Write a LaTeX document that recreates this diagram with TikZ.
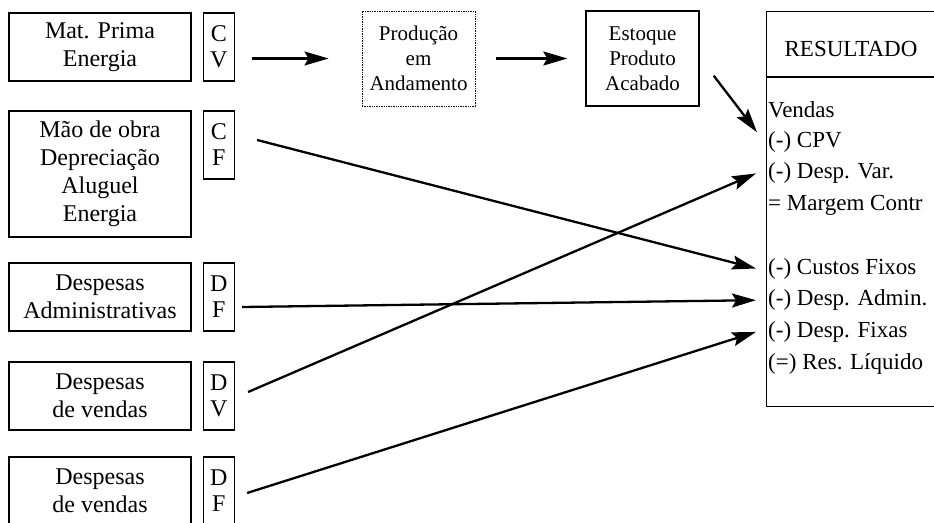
\documentclass[tikz,border=0pt]{standalone}
\usepackage{fontspec}
\setmainfont{Liberation Serif}
\usetikzlibrary{arrows.meta,positioning,calc}
\tikzset{
  caixa/.style={draw, line width=1.4pt, align=center, inner sep=0pt},
  esq/.style={caixa, minimum width=182pt, minimum height=68pt, font=\fontsize{24}{28}\selectfont},
  tag/.style={caixa, minimum width=31pt, minimum height=68pt, anchor=north west, font=\fontsize{24}{26}\selectfont},
  meio/.style={caixa, minimum width=113pt, minimum height=95pt, font=\fontsize{21}{25}\selectfont},
  linha/.style={anchor=west, inner sep=0pt, font=\fontsize{23}{28}\selectfont},
  seta/.style={line width=2.3pt, -{Stealth[length=24pt,width=14pt,inset=4pt]}}
}
\begin{document}
\begin{tikzpicture}[x=1pt, y=-1pt]
\useasboundingbox (0,0) rectangle (934,522);
\clip (0,0) rectangle (934,522);
% custos e despesas
\node[esq] (mp) at (100,47) {Mat. Prima\\Energia};
\node[esq, minimum height=126pt] (mo) at (100,174) {Mão de obra\\Depreciação\\Aluguel\\Energia};
\node[esq] (da) at (100,297) {Despesas\\Administrativas};
\node[esq] (dv) at (100,396) {Despesas\\de vendas};
\node[esq] (dfx) at (100,491) {Despesas\\de vendas};
\node[tag] (tcv) at ([xshift=11pt]mp.north east) {C\\V};
\node[tag] (tcf) at ([xshift=11pt]mo.north east) {C\\F};
\node[tag] (tdf) at ([xshift=11pt]da.north east) {D\\F};
\node[tag] (tdv) at ([xshift=11pt]dv.north east) {D\\V};
\node[tag] (tdf2) at ([xshift=11pt]dfx.north east) {D\\F};
% producao
\node[meio, densely dotted, line width=1pt] (prod) at (418.5,58.5) {Produção\\em\\Andamento};
\node[meio] (est) at (642.5,58.5) {Estoque\\Produto\\Acabado};
% resultado
\node[caixa, minimum width=190pt, minimum height=395pt, anchor=north west] (res) at (766,11) {};
\draw[line width=1.4pt] (res.west |- 0,77) -- (res.east |- 0,77);
\node[font=\fontsize{23}{28}\selectfont] (tit) at (851,49) {RESULTADO};
\foreach \k/\t in {1/Vendas, 2/{(-) CPV}, 3/{(-) Desp. Var.}, 4/{= Margem Contr},
  6/{(-) Custos Fixos}, 7/{(-) Desp. Admin.}, 8/{(-) Desp. Fixas}, 9/{(=) Res. Líquido}}
  \node[linha] (r\k) at (768,78.3+31.7*\k) {\t};
% setas
\draw[seta] ($(tcv.east |- prod.west)+(17,0)$) -- ($(prod.west)+(-33,0)$);
\draw[seta] ($(prod.east)+(20,0)$) -- ($(est.west)+(-18,0)$);
\draw[seta] ($(est.south east)+(14,-31)$) -- ($(r1.west)!.7!(r2.west)+(-11,0)$);
\draw[seta] ($(tcf.east)+(22,-5)$) -- ($(r6.west)+(-12,0)$);
\draw[seta] ($(tdf.east)+(7,10)$) -- ($(r7.west)+(-12,0)$);
\draw[seta] ($(tdv.east)+(13,-4)$) -- ($(r3.west)+(-12,0)$);
\draw[seta] ($(tdf2.east)+(12,2)$) -- ($(r8.west)+(-12,0)$);
\end{tikzpicture}
\end{document}
